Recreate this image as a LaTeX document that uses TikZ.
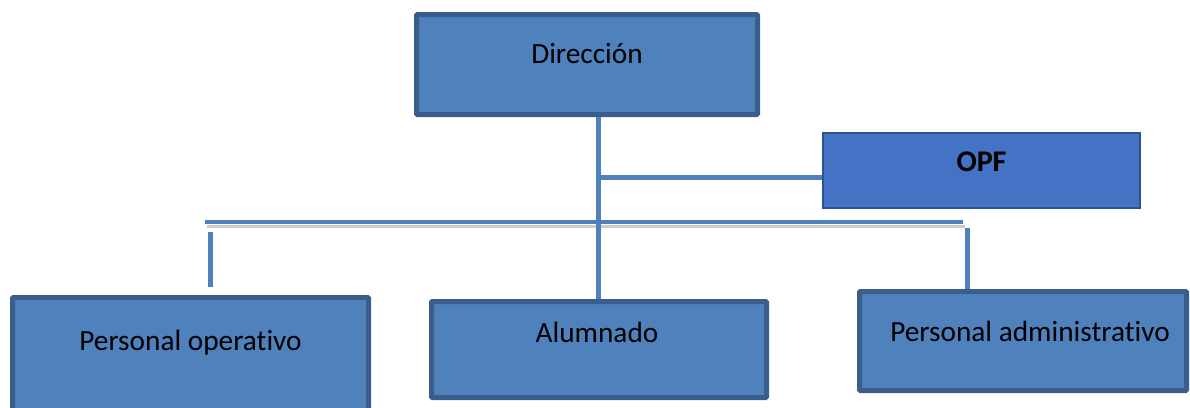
\documentclass[tikz,border=0pt]{standalone}
\usepackage{fontspec}
\setmainfont{Carlito}[Ligatures={NoCommon}]
\usetikzlibrary{calc}
\definecolor{boxfill}{HTML}{4F81BD}
\definecolor{boxline}{HTML}{3A5E8C}
\definecolor{opffill}{HTML}{4472C4}
\definecolor{opfline}{HTML}{2F528F}
\definecolor{conn}{HTML}{4F81BD}
\tikzset{
  orgbox/.style={draw=boxline, fill=boxfill, line width=5pt, rectangle, inner sep=0pt, rounded corners=1pt},
  opfbox/.style={draw=opfline, fill=opffill, line width=1.8pt, rectangle, inner sep=0pt},
  lbl/.style={font=\fontsize{29.3}{35}\selectfont, text=black},
  wire/.style={draw=conn, line width=5pt},
  shade/.style={draw=black!25, line width=3pt, opacity=0.8}
}
\begin{document}
\begin{tikzpicture}[x=1pt, y=-1pt]
\useasboundingbox (0,0) rectangle (1190,407);
% boxes
\node[orgbox, minimum width=341pt, minimum height=100pt,
  label={[lbl, yshift=10.5pt]center:Dirección}] (dir) at (587,64.5) {};
\node[opfbox, minimum width=317pt, minimum height=75pt,
  label={[lbl, font=\fontsize{30}{34}\selectfont\bfseries, yshift=8.5pt]center:OPF}] (opf) at (981.5,170.5) {};
\node[orgbox, minimum width=356pt, minimum height=115pt,
  label={[lbl, yshift=12pt]center:Personal operativo}] (po) at (190.5,355) {};
\node[orgbox, minimum width=335pt, minimum height=96pt,
  label={[lbl, yshift=17.5pt, xshift=-2pt]center:Alumnado}] (alu) at (599,349.5) {};
\node[orgbox, minimum width=327pt, minimum height=99pt,
  label={[lbl, yshift=10pt, xshift=7pt]center:Personal administrativo}] (pa) at (1023,341) {};
% coordinates for the bus
\coordinate (busL) at (205,222);
\coordinate (busR) at (963,222);
\coordinate (dropL) at (210,232);
\coordinate (dropR) at (967,228);
% shadows
\draw[shade] ($(busL)+(2,4)$) -- ($(busR)+(2,4)$);
% connectors
\draw[wire] (dir.south -| alu.north) ++(-1,0) coordinate (t1) -- (t1 |- alu.north);
\draw[wire] (t1 |- 0,177) -- (opf.west |- 0,177);
\draw[wire, line width=4.5pt] (busL) -- (busR);
\draw[wire] (dropL) -- (dropL |- 0,287);
\draw[wire] (dropR) -- (dropR |- pa.north);
\end{tikzpicture}
\end{document}
